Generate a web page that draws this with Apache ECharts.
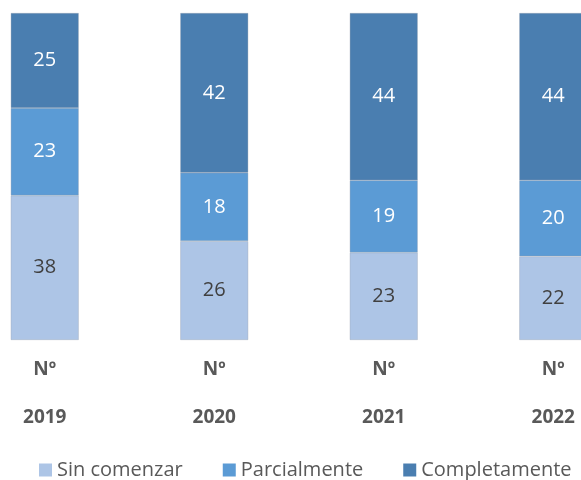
<!DOCTYPE html>
<html>
<head>
<meta charset="utf-8">
<script src="https://cdn.jsdelivr.net/npm/echarts@6/dist/echarts.min.js"></script>
<style>
  html, body { margin: 0; padding: 0; background: #fff; }
  #chart { width: 581px; height: 480px; }
</style>
</head>
<body>
<div id="chart"></div>
<script>
const categories = ['Nº\n2019', 'Nº\n2020', 'Nº\n2021', 'Nº\n2022']
const sinComenzar = [38, 26, 23, 22]
const parcialmente = [23, 18, 19, 20]
const completamente = [25, 42, 44, 44]

const font = 'Open Sans, Noto Sans, sans-serif'

const makeSeries = (name, data, color, labelColor) => ({
  name,
  type: 'bar',
  stack: 'total',
  barWidth: 68,
  data,
  itemStyle: { color, borderColor: 'rgba(150,160,175,0.6)', borderWidth: 0.6 },
  label: {
    show: true,
    position: 'inside',
    color: labelColor,
    fontSize: 20,
    fontFamily: font
  }
})

const chart = echarts.init(document.getElementById('chart'))
chart.setOption({
  animation: false,
  grid: {
    left: -40, width: 678, top: 13, bottom: 140,
    containLabel: false, outerBoundsMode: 'none'
  },
  legend: {
    top: 455,
    left: 34,
    itemWidth: 13,
    itemHeight: 13,
    itemGap: 40,
    icon: 'rect',
    itemStyle: { borderWidth: 0 },
    textStyle: { fontSize: 20, color: '#595959', fontFamily: font }
  },
  xAxis: {
    type: 'category',
    data: categories,
    axisLine: { show: false },
    axisTick: { show: false },
    axisLabel: {
      color: '#595959',
      fontSize: 19,
      fontWeight: 'bold',
      fontFamily: font,
      lineHeight: 48,
      margin: 6
    }
  },
  yAxis: { type: 'value', show: false, min: 0, max: 86 },
  series: [
    makeSeries('Sin comenzar', sinComenzar, '#adc5e6', '#404040'),
    makeSeries('Parcialmente', parcialmente, '#5b9bd5', '#ffffff'),
    makeSeries('Completamente', completamente, '#4a7eb0', '#ffffff')
  ]
})
</script>
</body>
</html>
